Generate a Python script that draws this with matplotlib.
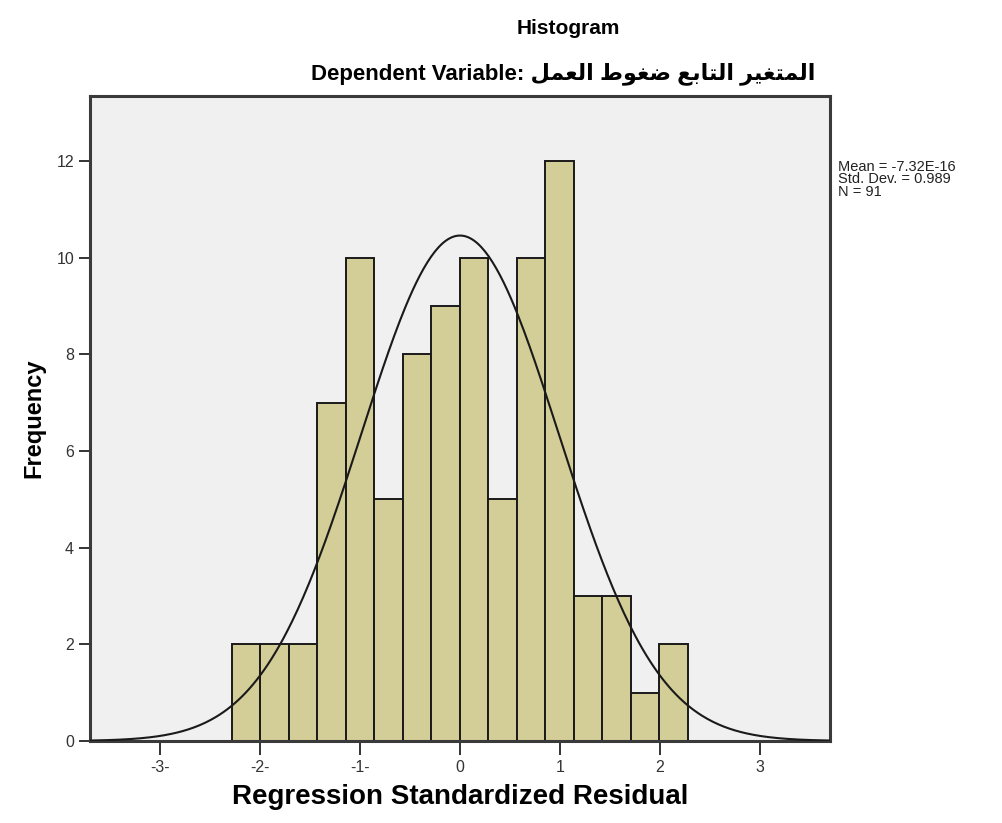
import numpy as np
import matplotlib
matplotlib.use('Agg')
import matplotlib.pyplot as plt

# histogram of regression standardized residuals
counts = [2, 2, 2, 7, 10, 5, 8, 9, 10, 5, 10, 12, 3, 3, 1, 2]
bin_start = -2.28
bin_width = 0.285
mean_val = -7.32e-16
std_val = 0.989
n_obs = 91

x_ticks = [-3, -2, -1, 0, 1, 2, 3]
x_tick_labels = ['-3-', '-2-', '-1-', '0', '1', '2', '3']
y_ticks = [0, 2, 4, 6, 8, 10, 12]

# Arabic words in presentation forms, visual (left-to-right) order
arabic = '\uFEDE\uFEE4\uFECC\uFEDF\uFE8D \uFEC1\uFEEE\uFED0\uFEBF \uFECA\uFE91\uFE8E\uFE98\uFEDF\uFE8D \uFEAE\uFEF4\uFED0\uFE98\uFEE4\uFEDF\uFE8D'
subtitle = 'Dependent Variable: ' + arabic

fam = ['Liberation Sans', 'DejaVu Sans']
plt.rcParams['font.family'] = fam

fig = plt.figure(figsize=(10.03, 8.23), dpi=100)
ax = fig.add_axes([90/1003, 82/823, 740/1003, 645/823])
ax.set_facecolor('#f0f0f0')

edges = bin_start + bin_width*np.arange(len(counts) + 1)
ax.bar(edges[:-1], counts, width=bin_width, align='edge',
       color='#d3ce97', edgecolor='#1a1a1a', linewidth=1.4, zorder=2)

xs = np.linspace(-3.7, 3.7, 400)
ys = n_obs*bin_width/(std_val*np.sqrt(2*np.pi))*np.exp(-0.5*((xs - mean_val)/std_val)**2)
ax.plot(xs, ys, color='#1a1a1a', linewidth=1.5, zorder=3)

ax.set_xlim(-3.7, 3.7)
ax.set_ylim(0, 13.35)
ax.set_xticks(x_ticks)
ax.set_xticklabels(x_tick_labels)
ax.set_yticks(y_ticks)
ax.tick_params(axis='both', direction='out', colors='#333333', labelsize=11.5,
               width=1.4, length=8)
ax.tick_params(axis='x', length=10)

for side in ['left', 'bottom', 'top', 'right']:
    ax.spines[side].set_color('#3a3a3a')
    ax.spines[side].set_linewidth(2.2)

ax.set_xlabel('Regression Standardized Residual', fontsize=20, fontweight='bold', labelpad=7)
ax.set_ylabel('Frequency', fontsize=17, fontweight='bold', labelpad=8)

fig.text(568/1003, 1 - 28/823, 'Histogram', ha='center', va='center',
         fontsize=15, fontweight='bold')
fig.text(563/1003, 1 - 74/823, subtitle, ha='center', va='center',
         fontsize=16, fontweight='bold', family=fam)

stats = 'Mean = -7.32E-16\nStd. Dev. = 0.989\nN = 91'
fig.text(838/1003, 1 - 160/823, stats, ha='left', va='top', fontsize=10.5,
         linespacing=0.85, color='#222222')

fig.savefig('out.png', dpi=100)
